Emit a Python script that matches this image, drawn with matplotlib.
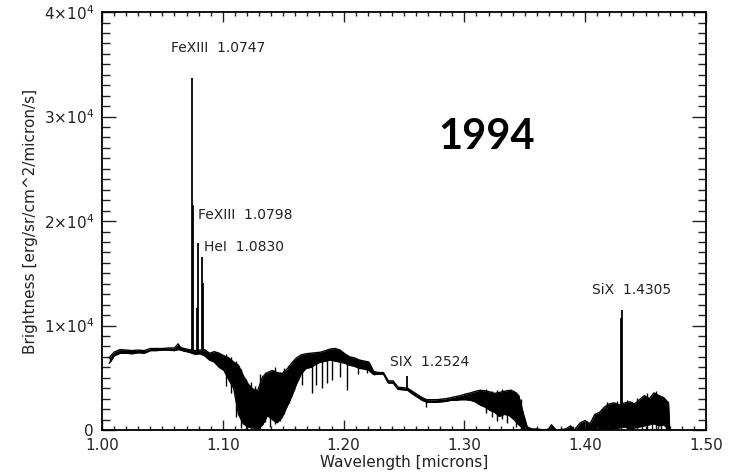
import numpy as np
import matplotlib.pyplot as plt
from matplotlib.ticker import MultipleLocator, FuncFormatter

# continuum band, wavelength [microns] with lower / upper envelope of the noisy spectrum
wl = [1.006, 1.008, 1.010, 1.015, 1.020, 1.025, 1.030, 1.035, 1.040, 1.045,
      1.050, 1.055, 1.060, 1.063, 1.065, 1.068, 1.072, 1.077, 1.081, 1.085,
      1.089, 1.093, 1.097, 1.101, 1.105, 1.109, 1.113, 1.117, 1.121, 1.125,
      1.129, 1.133, 1.137, 1.141, 1.145, 1.149, 1.153, 1.157, 1.161, 1.165,
      1.169, 1.173, 1.177, 1.181, 1.185, 1.189, 1.193, 1.197, 1.201, 1.205,
      1.209, 1.213, 1.217, 1.221, 1.225, 1.229, 1.233, 1.237, 1.241, 1.245,
      1.249, 1.253, 1.257, 1.261, 1.265, 1.269, 1.273, 1.277, 1.281, 1.285,
      1.289, 1.293, 1.297, 1.301, 1.305, 1.309, 1.313, 1.317, 1.321, 1.325,
      1.329, 1.333, 1.337, 1.341, 1.345, 1.349, 1.352, 1.356, 1.360, 1.366,
      1.370, 1.372, 1.376, 1.384, 1.388, 1.391, 1.396, 1.400, 1.404, 1.408,
      1.412, 1.416, 1.420, 1.424, 1.428, 1.433, 1.437, 1.441, 1.445, 1.449,
      1.453, 1.457, 1.461, 1.465, 1.469, 1.470]
hi = [6900, 7200, 7450, 7700, 7650, 7600, 7650, 7600, 7800, 7800,
      7800, 7850, 7850, 8250, 7900, 7800, 7700, 7600, 7650, 7700,
      7350, 7500, 7350, 7100, 6900, 6500, 6200, 5200, 4400, 3900,
      3800, 5100, 5500, 5700, 5500, 5400, 5800, 6400, 6900, 7200,
      7300, 7350, 7400, 7450, 7600, 7750, 7800, 7650, 7300, 7000,
      6900, 6700, 6600, 6500, 5600, 5500, 5500, 4700, 4700, 4100,
      4050, 4000, 3700, 3400, 3100, 2900, 2900, 2900, 2950, 3000,
      3100, 3200, 3300, 3450, 3550, 3700, 3800, 3750, 3650, 3500,
      3600, 3700, 3800, 3700, 3300, 1500, 300, 100, 100, 0,
      100, 500, 0, 100, 400, 0, 700, 900, 600, 1500,
      1700, 2200, 2500, 2600, 2400, 2600, 2700, 2500, 2900, 3300,
      3000, 3550, 3300, 3100, 2600, 0]
lo = [6400, 6700, 7100, 7350, 7350, 7300, 7400, 7350, 7600, 7600,
      7650, 7650, 7600, 7700, 7650, 7550, 7450, 7250, 7300, 7100,
      6700, 6500, 6000, 5700, 4800, 4000, 1500, 600, 300, 200,
      100, 500, 1400, 1000, 700, 1200, 2200, 3200, 4400, 5400,
      5900, 6000, 6300, 6500, 6600, 6700, 6600, 6500, 6400, 6200,
      6100, 5900, 5850, 5700, 5300, 5350, 5350, 4500, 4500, 3900,
      3850, 3800, 3450, 3150, 2850, 2650, 2650, 2650, 2700, 2750,
      2850, 2850, 2900, 2900, 2850, 2700, 2400, 2200, 1900, 1700,
      1300, 1500, 1400, 1000, 500, 100, 0, 0, 0, 0,
      0, 0, 0, 0, 0, 0, 0, 0, 50, 0,
      50, 100, 150, 100, 200, 300, 100, 200, 300, 400,
      500, 600, 400, 500, 100, 0]

# noise spikes sticking out of the band (low, high)
spike_wl = [1.103, 1.107, 1.111, 1.115, 1.119, 1.123, 1.127, 1.131, 1.135, 1.139,
            1.143, 1.147, 1.151, 1.155, 1.159, 1.318, 1.323, 1.327, 1.331, 1.335,
            1.339, 1.343, 1.347, 1.414, 1.418, 1.422, 1.426, 1.435, 1.439, 1.443,
            1.447, 1.451, 1.455, 1.459, 1.463, 1.467]
spike_lo = [4200, 3500, 1200, 200, 0, 100, 500, 0, 800, 300,
            600, 900, 1500, 2600, 3800, 1600, 1200, 900, 1100, 700,
            1200, 300, 100, 0, 0, 0, 0, 0, 0, 0,
            0, 0, 0, 0, 0, 0]
spike_hi = [7300, 7000, 6600, 5800, 4900, 4600, 4200, 5400, 5600, 5200,
            6000, 5600, 5900, 6200, 6700, 3900, 3700, 3800, 3900, 3700,
            3900, 3600, 3000, 2000, 2700, 2300, 2800, 2900, 2400, 3100,
            2700, 3500, 3200, 3700, 3000, 2800]

# narrow absorption dips below the continuum
dip_wl = [1.1656, 1.1740, 1.1770, 1.1820, 1.1860, 1.1900, 1.1970, 1.2030, 1.2120, 1.2190, 1.2680]
dip_val = [4300, 3500, 4300, 4000, 4500, 4800, 5100, 3800, 5400, 5500, 2200]

# emission lines (peak brightness)
line_wl = [1.0747, 1.0752, 1.0790, 1.0798, 1.0830, 1.0838, 1.2524, 1.4300, 1.4305]
line_peak = [33700, 21500, 11700, 17900, 16600, 14100, 5150, 10700, 11500]

labels = ['FeXIII  1.0747', 'FeXIII  1.0798', 'HeI  1.0830', 'SIX  1.2524', 'SiX  1.4305']
label_x = [1.096, 1.0795, 1.0844, 1.2384, 1.4056]
label_y = [36560, 20575, 17500, 6500, 13400]
label_ha = ['center', 'left', 'left', 'left', 'left']

fig = plt.figure(figsize=(7.37, 4.76), dpi=100)
ax = fig.add_axes([0.1384, 0.0966, 0.8195, 0.878])

ax.fill_between(wl, lo, hi, color='black', lw=0)
ax.plot(wl, hi, color='black', lw=1.0)
ax.plot(wl, lo, color='black', lw=1.0)
ax.vlines(spike_wl, spike_lo, spike_hi, color='black', lw=1.0)

dip_base = np.interp(dip_wl, wl, hi)
ax.vlines(dip_wl, dip_val, dip_base, color='black', lw=1.0)

line_base = np.interp(line_wl, wl, lo)
ax.vlines(line_wl, line_base, line_peak, color='black', lw=1.3)

for t, x, y, ha in zip(labels, label_x, label_y, label_ha):
    ax.text(x, y, t, ha=ha, va='center', fontsize=10, color='#222222')

ax.set_xlim(1.0, 1.5)
ax.set_ylim(0, 40000)
ax.xaxis.set_major_locator(MultipleLocator(0.1))
ax.xaxis.set_minor_locator(MultipleLocator(0.01))
ax.yaxis.set_major_locator(MultipleLocator(10000))
ax.yaxis.set_minor_locator(MultipleLocator(1000))
ax.xaxis.set_major_formatter(FuncFormatter(lambda v, p: f'{v:.2f}'))
ax.yaxis.set_major_formatter(FuncFormatter(
    lambda v, p: '0' if v == 0 else r'$%d{\times}10^{4}$' % round(v / 10000)))

ax.tick_params(axis='both', which='both', direction='in', top=True, right=True,
               labelsize=11, colors='#222222', width=1.0)
ax.tick_params(axis='x', which='major', length=7, pad=6)
ax.tick_params(axis='x', which='minor', length=3)
ax.tick_params(axis='y', which='major', length=10, pad=6)
ax.tick_params(axis='y', which='minor', length=6)
for s in ax.spines.values():
    s.set_linewidth(1.3)

ax.set_xlabel('Wavelength [microns]', fontsize=11, color='#222222', labelpad=1)
ax.set_ylabel('Brightness [erg/sr/cm^2/micron/s]', fontsize=11, color='#222222', labelpad=4)

fig.text(487 / 737, 1 - 137 / 476, '1994', fontsize=30, fontweight='bold',
         family='Lato', ha='center', va='center')

plt.savefig('out.png', dpi=100)
